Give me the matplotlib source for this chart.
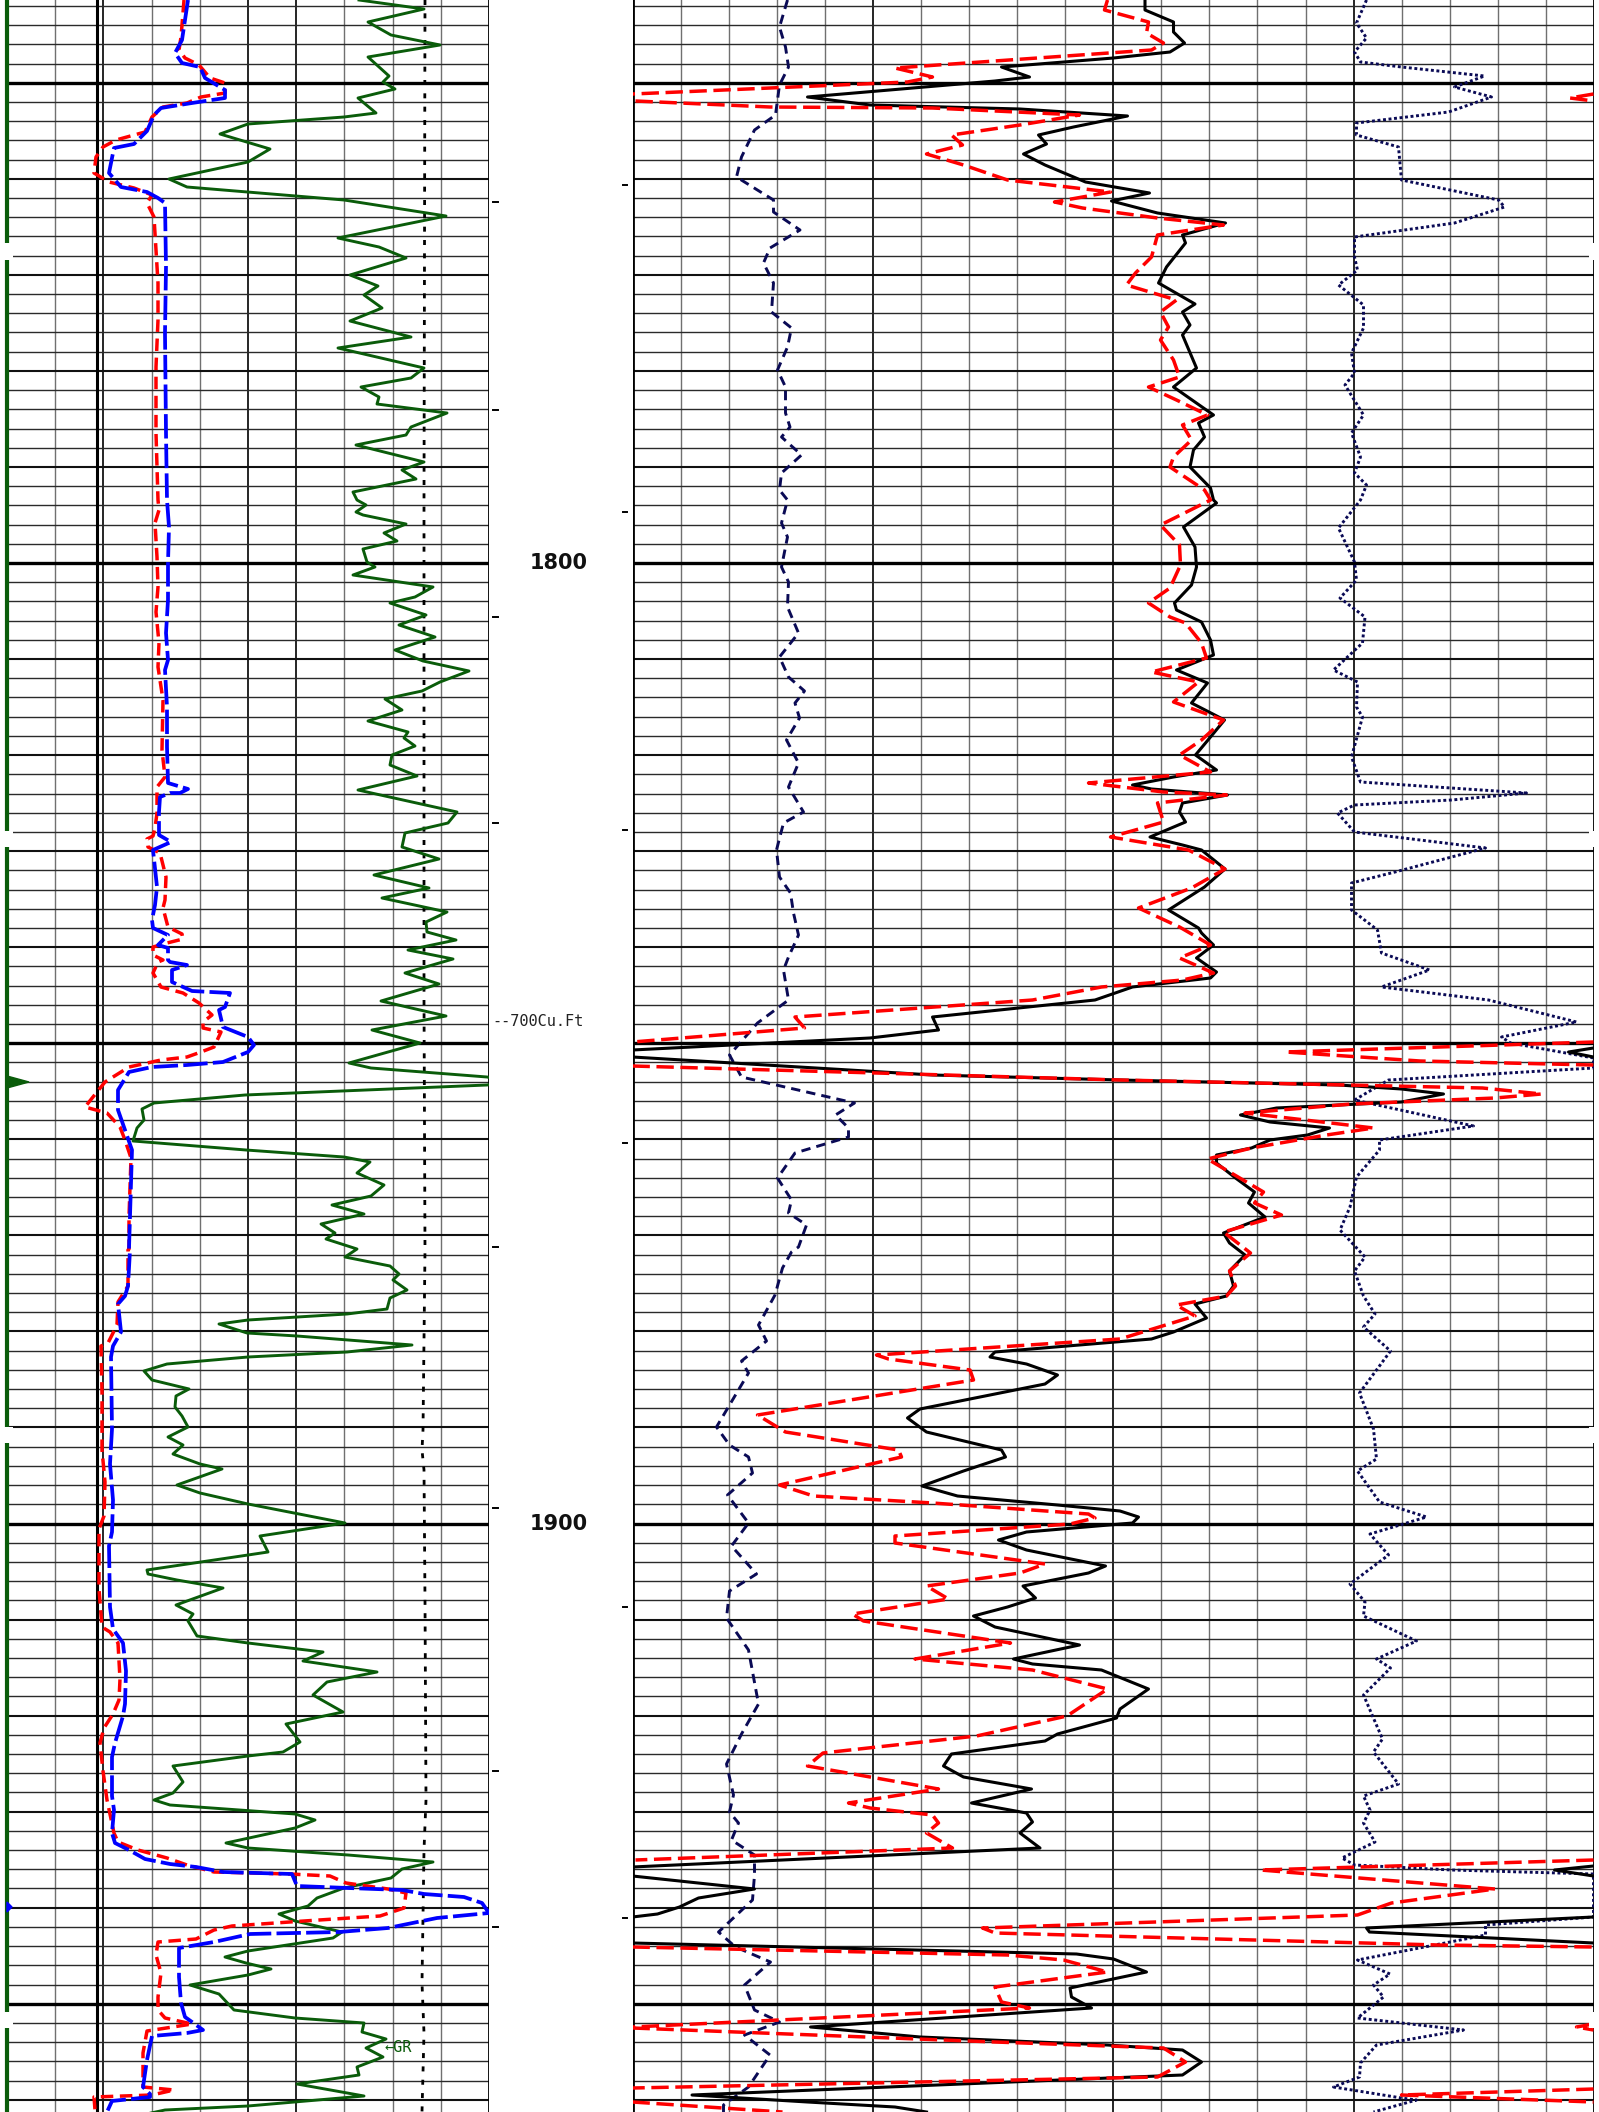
import numpy as np
import matplotlib
matplotlib.use("Agg")
import matplotlib.pyplot as plt
from matplotlib.patches import Rectangle

nan = float("nan")
W, H = 1599, 2112
SAMPLES_PER_FT = 9.605
DEPTH_AT_SAMPLE_563 = 1800.0

# Left track: values on a 0-482 scale; right track: 0-961; sample = index down the log
GR_VAL = [352,417,361,384,433,361,382,376,388,351,369,337,241,213,263,241,162,180,337,439,331,372,399,343,371,357,375,343,404,331,417,404,354,372,370,440,404,399,349,417,395,409,346,350,359,349,356,399,377,390,356,360,368,346,426,408,383,419,392,428,388,416,462,433,415,378,395,361,401,397,408,385,383,410,351,450,441,398,395,432,367,422,375,440,419,420,449,401,446,398,432,374,439,365,413,342,364,480,500,480,238,147,135,137,130,126,239,337,363,350,377,364,325,357,314,328,319,350,338,383,392,386,400,383,380,340,241,212,240,290,405,340,241,160,137,145,182,169,168,175,181,161,176,166,193,215,170,193,241,338,253,261,241,140,141,170,216,169,186,181,190,241,316,296,370,320,306,336,279,293,276,241,166,176,166,147,163,288,308,288,219,241,341,426,395,384,337,310,301,272,288,335,326,241,218,239,264,241,183,212,227,288,357,355,379,359,376,350,352,290,357,241,158,130]
GR_SAMPLE = [0,9,22,35,45,57,76,82,89,98,113,117,124,134,149,162,179,187,200,216,238,247,258,275,286,295,308,321,337,348,368,378,387,397,404,413,427,435,445,462,470,479,492,500,505,512,515,524,533,541,549,562,567,575,587,597,603,615,625,637,650,661,671,682,691,699,710,721,732,738,746,755,765,776,790,812,823,833,847,859,875,888,898,912,922,932,940,950,959,973,984,1001,1016,1030,1043,1063,1068,1077,1081,1085,1095,1103,1109,1120,1128,1141,1150,1157,1162,1173,1185,1196,1205,1214,1224,1233,1239,1249,1257,1266,1274,1280,1290,1298,1309,1314,1320,1324,1333,1336,1345,1352,1357,1364,1371,1380,1389,1396,1407,1416,1427,1437,1445,1454,1464,1469,1485,1493,1504,1523,1536,1552,1555,1570,1574,1580,1588,1605,1614,1621,1636,1643,1652,1661,1672,1682,1695,1712,1724,1742,1752,1756,1766,1782,1793,1800,1805,1814,1820,1828,1843,1848,1855,1862,1869,1878,1888,1898,1906,1914,1921,1932,1938,1951,1957,1963,1969,1975,1985,1994,2010,2018,2023,2032,2039,2048,2057,2067,2075,2084,2096,2106,2110,2116]

SP_BLUE_VAL = [181,178,175,168,175,193,198,218,218,185,154,147,140,127,107,102,114,140,151,158,159,158,159,160,162,161,161,159,161,158,160,160,161,181,173,163,153,152,152,164,146,150,148,145,146,161,151,161,161,163,180,165,165,185,223,218,212,216,241,247,241,216,180,145,122,111,111,118,125,124,122,123,121,118,111,114,106,104,105,103,106,105,102,103,106,116,119,118,116,108,105,105,107,105,108,122,138,163,189,216,285,290,341,395,417,457,475,482,430,381,332,243,207,172,172,174,178,185,196,180,145,140,136,143,143,105,100]
SP_BLUE_SAMPLE = [0,20,40,53,63,67,78,90,98,103,108,115,131,144,148,173,187,192,198,203,267,333,433,500,527,563,600,633,660,670,707,747,783,789,793,793,797,812,835,842,850,887,905,920,928,935,945,948,960,962,965,970,982,991,993,1007,1010,1027,1037,1045,1052,1062,1065,1067,1072,1090,1110,1130,1150,1183,1249,1250,1286,1296,1304,1332,1346,1357,1429,1464,1500,1532,1546,1607,1629,1643,1671,1704,1716,1743,1757,1796,1810,1833,1843,1850,1859,1864,1867,1872,1874,1886,1888,1890,1894,1897,1903,1913,1918,1928,1932,1934,1942,1948,1977,2003,2017,2022,2030,2033,2036,2060,2087,2094,2097,2101,2112]

SP_RED_VAL = [177,176,174,172,178,192,203,218,218,194,180,156,145,138,109,96,89,87,102,127,145,140,147,149,151,151,149,149,151,152,148,150,151,149,152,151,156,155,158,150,150,148,146,140,141,153,159,158,156,161,175,176,160,146,146,156,151,146,154,176,192,205,196,196,214,207,194,180,154,122,98,78,100,113,118,124,122,122,121,121,111,110,101,94,95,95,98,97,92,92,95,103,111,113,112,106,97,93,96,100,107,111,131,160,180,207,283,323,339,381,399,397,373,297,225,207,189,151,149,154,151,151,158,185,140,136,136,167,145,87,88]
SP_RED_SAMPLE = [0,13,37,50,58,65,78,83,93,97,103,107,117,132,140,147,157,173,182,188,195,203,217,250,283,320,367,433,500,510,523,557,587,612,643,667,700,750,777,787,813,828,836,839,847,853,877,900,908,927,934,939,943,947,955,960,962,973,987,993,1003,1015,1022,1028,1032,1047,1052,1057,1060,1067,1082,1107,1113,1127,1140,1158,1217,1249,1250,1286,1302,1325,1343,1346,1393,1450,1482,1516,1529,1589,1627,1632,1643,1679,1700,1714,1728,1743,1771,1800,1833,1842,1850,1858,1865,1872,1874,1876,1883,1889,1893,1908,1916,1921,1926,1930,1939,1942,1955,1973,1997,2010,2018,2024,2031,2053,2087,2090,2095,2097,2110]

DOT_VAL = [418,417,417,418,416,415,417,418,419,417,415,417,415]
DOT_SAMPLE = [0,500,1000,1250,1430,1450,1470,1600,1800,1850,1983,2033,2112]

BLACK_VAL = [512.5,512.5,541,541,552,537.5,481,369,397,362.5,175,237.5,387.5,495,441,406,414,391,412.5,453,517,479,525,593,550,553,534,526,562.5,550,557.5,550,564,541,581,566,572,561,557.5,578,581,584,551,562.5,564,559,542,544,569,578,581,544,575,559,592,578,563,584,541,500,519,595,550,547,553,517.5,550,569,592.5,572,536,566,569,581,564,584,578,500,462.5,300,306,237.5,0,nan,961,936,961,nan,0,300,487.5,706,769,811,769,644,608,637.5,697,675,637.5,619,584,584,603,622,616,632.5,591,597,612.5,597,601,594,562.5,574,541,519,362.5,357.5,394,425,412.5,287.5,275,294,369,373,331,289.5,325,425,487.5,506,500,394,366,394,473,456,390.5,403,375,341,362.5,447,381,400,469,516,487.5,484,425,412.5,319,311,331,399,339,394,400,387.5,407.5,0,nan,961,922,961,nan,0,122,66,47,25,0,nan,961,734,737,961,nan,0,444,481,514,437.5,439,459,178,287.5,475,550,569,550,59.5,175,262.5,294]
BLACK_SAMPLE = [0,10,22,32,43,52,58,67,77,81,97,105,109,116,127,135,144,154,165,182,193,201,213,223,235,243,267,283,304,312,325,335,368,387,415,423,437,450,467,488,500,503,527,547,567,585,603,610,622,640,655,670,683,703,720,737,755,770,777,785,789,795,803,812,822,837,845,850,869,887,910,928,933,945,958,972,978,987,1000,1017,1030,1038,1050,nan,1048,1052,1057,nan,1057,1075,1080,1085,1089,1094,1102,1108,1115,1122,1128,1135,1140,1148,1155,1163,1178,1192,1203,1217,1233,1243,1255,1271,1286,1296,1304,1318,1332,1339,1352,1357,1364,1375,1384,1409,1418,1432,1450,1457,1471,1486,1496,1505,1511,1517,1523,1532,1540,1550,1566,1573,1586,1598,1607,1616,1627,1645,1659,1664,1670,1689,1709,1718,1734,1741,1754,1766,1777,1789,1803,1813,1822,1833,1848,1867,nan,1866,1870,1876,nan,1876,1889,1898,1907,1914,1917,nan,1917,1928,1932,1943,nan,1943,1954,1959,1972,1988,1997,2008,2027,2037,2045,2050,2062,2075,2095,2102,2107,2112]

RED_VAL = [475,472,516,514,531,519,262.5,300,275,0,nan,961,937.5,961,nan,3,137.5,300,447,387.5,319,330,294,331,375,478,422,450,525,591,525,519,503,494,544,528,536,528,541,547,516,544,575,550,559,541,537.5,572,578,528,547,548,537.5,516,537.5,553,569,574,519,566,541,591,569,547,578,456,531,594,525,531,478,556,592.5,559,506,547,578,547,581,550,469,400,162.5,172,0,nan,961,653,787.5,961,nan,0,487.5,625,850,909,862.5,719,612.5,741,694,619,575,631,622,649,591,618,597,603,594,544,562.5,487.5,244,256,337.5,341,125,153,266,269,147,181,300,456,462.5,437.5,262.5,262.5,412.5,387.5,294,316,220,231,378,282.5,400,475,434.5,344,190.5,175,306,216,237.5,300,306,294,320,3,nan,961,628,862.5,759,725,350,362.5,806,961,nan,0,375,431,475,362.5,369,397,0,nan,961,944,961,nan,0,362.5,531,553,525,0,nan,961,769,961,nan,0,150]
RED_SAMPLE = [0,10,22,33,43,50,68,77,82,94,nan,94,98,101,nan,101,107,108,115,125,135,145,154,165,180,192,202,208,218,225,235,257,273,285,300,312,327,340,360,377,387,400,415,425,440,457,467,490,500,525,545,565,588,603,617,623,643,658,672,682,702,720,740,755,772,783,792,795,803,822,837,850,869,888,908,927,945,958,973,980,987,1000,1017,1028,1042,nan,1042,1052,1061,1065,nan,1066,1080,1083,1088,1094,1098,1104,1113,1128,1135,1148,1159,1192,1203,1215,1232,1253,1271,1286,1296,1305,1316,1339,1355,1359,1370,1380,1415,1432,1450,1457,1485,1496,1503,1514,1518,1524,1536,1543,1564,1573,1586,1599,1614,1621,1643,1659,1670,1689,1716,1736,1753,1766,1789,1803,1808,1815,1823,1833,1848,1860,nan,1860,1870,1889,1903,1915,1928,1933,1945,1947,nan,1947,1955,1960,1972,1987,2002,2008,2027,nan,2024,2027,2030,nan,2028,2042,2048,2062,2077,2088,nan,2089,2095,2102,nan,2102,2112]

NAVY_DASH_VAL = [155,147,153,156,147,143,122,109,104,141,141,167.5,137.5,131,141,139,159,155,145,153,153,157.5,149,169,149,147,155,149,155,149,156,155,166,147,156,172,162.5,167,154,166,156,171,151,144,147,158,161,166,156,151,156,125,97,109,222,203,216,216,162.5,145,159,156,174,166,159,150,142.5,126,134,109,116,84,97,116,120,95,116,99,124,97,94,116,126,109,94,101,97,106,99,122,122,120,86,103,138,112,122,147,112,137.5,116,91,91]
NAVY_DASH_SAMPLE = [0,27,47,67,85,115,130,157,177,200,212,230,248,263,283,312,328,347,370,387,413,427,437,455,473,490,500,523,537,567,582,607,633,657,677,691,703,718,740,763,787,812,823,850,877,893,913,935,957,970,1000,1023,1055,1077,1103,1115,1128,1137,1153,1178,1200,1213,1225,1247,1252,1268,1295,1325,1341,1361,1373,1427,1445,1457,1473,1495,1523,1546,1574,1591,1618,1650,1704,1734,1764,1795,1812,1823,1840,1855,1875,1900,1932,1947,1962,1985,2010,2022,2035,2055,2087,2105,2112]

NAVY_DOT_VAL = [734,724,734,722,728,769,852,822,859,816,724,724,766,769,866,872,822,722,722,725,706,731,731,719,722,712.5,731,719,728,722,734,728,706,722,724,707.5,732.5,730,701,725,724,730,719,728,894,819,722,705,722,853,762.5,719,719,745,749,797,749,856,944,869,878,961,961,756,722,841,747,747,724,717.5,707.5,732.5,722,731,742.5,731,758,727,741,744,725,747,794,737.5,756,717.5,732.5,731,784,744,758,731,750,741,766,731,737.5,731,742.5,709.5,722,819,961,961,853,853,812.5,725,757.5,741,751,725,831,744,728,727,701,769,784,741]
NAVY_DOT_SAMPLE = [0,23,38,52,62,67,76,87,97,112,123,135,147,180,200,207,223,237,257,270,285,305,328,353,373,385,415,433,457,473,485,500,528,562,580,598,617,643,670,682,707,717,757,782,793,800,805,813,832,848,872,883,910,930,953,970,987,1000,1022,1037,1043,1058,1068,1080,1100,1126,1140,1150,1177,1207,1230,1257,1271,1296,1314,1327,1351,1393,1429,1459,1471,1502,1517,1534,1555,1584,1602,1616,1641,1659,1668,1695,1739,1752,1784,1796,1810,1823,1842,1858,1865,1870,1874,1917,1925,1935,1943,1960,1974,1985,1997,2018,2030,2045,2063,2077,2087,2098,2100,2112]

DEPTH_LABELS = [1800, 1900]
LEFT_TICKS = [202, 410, 617, 823, 1247, 1508, 1771, 1927]
RIGHT_TICKS = [185, 512, 830, 1143, 1607, 1918]
GAPS = [(243, 260), (831, 847), (1427, 1443), (2012, 2028)]


def depth(s):
    return DEPTH_AT_SAMPLE_563 + (np.asarray(s, float) - 563) / SAMPLES_PER_FT


GREEN = "#0a5c0a"
BLUE = "#0000ff"
RED = "#ff0000"
NAVY = "#0a0a55"
top, bottom = float(depth(0)), float(depth(H))

fig = plt.figure(figsize=(W / 100, H / 100), dpi=100, facecolor="white")
L = fig.add_axes([7 / W, 0, 482 / W, 1])
R = fig.add_axes([632.5 / W, 0, 961.5 / W, 1])

for ax, span, ndiv, dark in ((L, 482, 10, {2, 5, 6}), (R, 961.5, 20, {0, 5, 10, 15})):
    ax.set_xlim(0, span)
    ax.set_ylim(bottom, top)
    ax.axis("off")
    for k in range(ndiv + 1):
        x = span * k / ndiv
        ax.axvline(x, color="black" if k in dark else "#707070",
                   lw=1.2 if k in dark else 1.0, zorder=1)
    for d in np.arange(1734, 1966, 2):
        if d % 50 == 0:
            c, lw = "black", 2.4
        elif d % 10 == 0:
            c, lw = "#111111", 1.5
        else:
            c, lw = "#2a2a2a", 1.0
        ax.axhline(d, color=c, lw=lw, zorder=1)
    ax.axvline(span, color="black", lw=2.0, zorder=2)
R.axvline(0, color="black", lw=2.0, zorder=2)
L.axvline(90, color="black", lw=2.2, zorder=2)

L.plot(DOT_VAL, depth(DOT_SAMPLE), color="black", lw=2.0, dashes=(1.8, 3.0), zorder=3)
L.plot(GR_VAL, depth(GR_SAMPLE), color=GREEN, lw=2.1, zorder=4, solid_joinstyle="round")
L.plot(SP_RED_VAL, depth(SP_RED_SAMPLE), color=RED, lw=2.5, dashes=(3.6, 1.9), zorder=5)
L.plot(SP_BLUE_VAL, depth(SP_BLUE_SAMPLE), color=BLUE, lw=2.7, dashes=(6.5, 1.4), zorder=6)

R.plot(NAVY_DASH_VAL, depth(NAVY_DASH_SAMPLE), color=NAVY, lw=2.1, dashes=(3.2, 2.1), zorder=3)
R.plot(NAVY_DOT_VAL, depth(NAVY_DOT_SAMPLE), color=NAVY, lw=2.1, dashes=(1.0, 0.9), zorder=3)
R.plot(BLACK_VAL, depth(BLACK_SAMPLE), color="black", lw=2.2, zorder=4, solid_joinstyle="round")
R.plot(RED_VAL, depth(RED_SAMPLE), color=RED, lw=2.5, dashes=(5, 1.9), zorder=5)

# edge track, flags
L.plot([0, 0], [top, bottom], color=GREEN, lw=3.0, clip_on=False, zorder=6)
L.fill([0, 22, 0], depth([1076, 1082, 1088]), color=GREEN, clip_on=False, zorder=6)
L.fill([0, 5, 0], depth([1902, 1907, 1912]), color=BLUE, clip_on=False, zorder=6)

# sprocket gaps
for a, b in GAPS:
    L.add_patch(Rectangle((-10, float(depth(b))), 16, float(depth(a) - depth(b)),
                          color="white", clip_on=False, zorder=7, lw=0))
    R.add_patch(Rectangle((956, float(depth(b))), 12, float(depth(a) - depth(b)),
                          color="white", clip_on=False, zorder=7, lw=0))

# depth tick marks
for s in LEFT_TICKS:
    L.plot([486, 491], [depth(s)] * 2, color="black", lw=1.4, clip_on=False)
for s in RIGHT_TICKS:
    R.plot([-10, -6], [depth(s)] * 2, color="black", lw=1.4, clip_on=False)

# labels
for d in DEPTH_LABELS:
    L.text(552, d, str(d), ha="center", va="center", fontsize=15, fontweight="bold",
           family="DejaVu Sans", color="#111111", clip_on=False)
L.text(485, depth(1022), "--700Cu.Ft", ha="left", va="center", fontsize=11,
       family="DejaVu Sans Mono", color="#222222", clip_on=False)
L.text(377, depth(2047), "\u2190GR", ha="left", va="center", fontsize=11,
       family="DejaVu Sans Mono", color=GREEN, clip_on=False)

fig.savefig("out.png", dpi=100, facecolor="white")
